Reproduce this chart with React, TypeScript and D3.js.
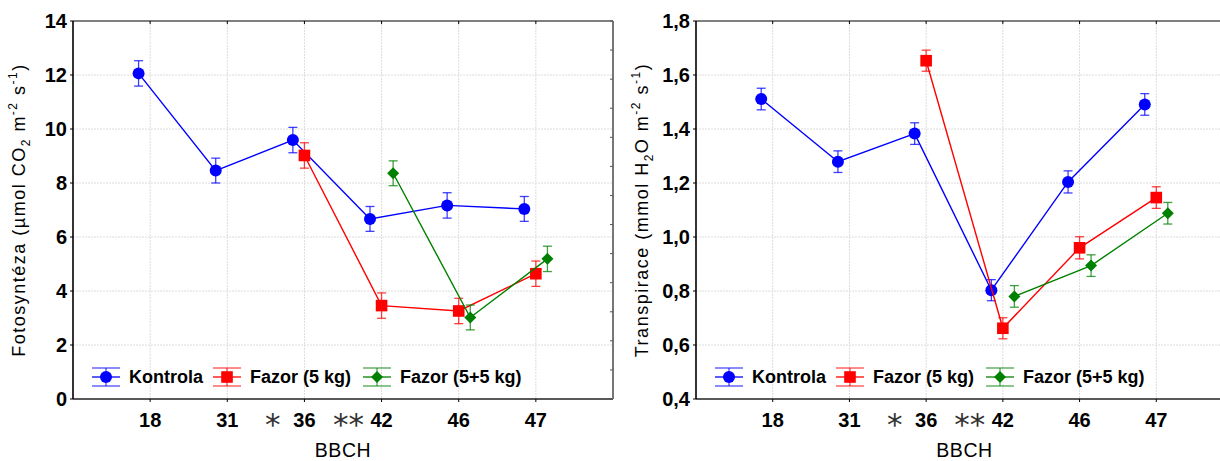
import React from 'react';
import * as d3 from 'd3';

// BBCH growth stages on the x axis
const categories = ['18', '31', '36', '42', '46', '47'];

const seriesNames = ['Kontrola', 'Fazor (5 kg)', 'Fazor (5+5 kg)'];
const seriesColors = ['#0000ff', '#ff0000', '#008000'];
const seriesOffsets = [-0.15, 0, 0.15];
const seriesShapes = ['circle', 'square', 'diamond'];

// Fotosyntéza (µmol CO2 m-2 s-1)
const photoKontrola = [12.06, 8.46, 9.59, 6.67, 7.17, 7.04];
const photoKontrolaErr = [0.47, 0.46, 0.47, 0.46, 0.47, 0.46];
const photoFazor5 = [null, null, 9.02, 3.46, 3.26, 4.64];
const photoFazor5Err = [null, null, 0.47, 0.47, 0.47, 0.47];
const photoFazor55 = [null, null, null, 8.36, 3.02, 5.19];
const photoFazor55Err = [null, null, null, 0.46, 0.46, 0.47];
const photoTicks = [0, 2, 4, 6, 8, 10, 12, 14];

// Transpirace (mmol H2O m-2 s-1)
const transKontrola = [1.511, 1.279, 1.383, 0.803, 1.204, 1.491];
const transKontrolaErr = [0.04, 0.04, 0.04, 0.039, 0.041, 0.04];
const transFazor5 = [null, null, 1.653, 0.662, 0.96, 1.146];
const transFazor5Err = [null, null, 0.039, 0.039, 0.041, 0.04];
const transFazor55 = [null, null, null, 0.78, 0.894, 1.088];
const transFazor55Err = [null, null, null, 0.04, 0.04, 0.04];
const transTicks = [0.4, 0.6, 0.8, 1.0, 1.2, 1.4, 1.6, 1.8];

// significance marks between stages
const stars = [
  { pos: 2.59, text: '*' },
  { pos: 3.57, text: '**' },
];

const FONT = '"Liberation Sans", Arial, sans-serif';

type Pt = { i: number; v: number; e: number };

const Marker = ({ shape, color }: { shape: string; color: string }) => {
  if (shape === 'circle') return <circle r={6} fill={color} />;
  if (shape === 'square') return <rect x={-5.8} y={-5.8} width={11.6} height={11.6} fill={color} />;
  return <path d="M0,-6L6,0L0,6L-6,0Z" fill={color} />;
};

const Panel = ({ x0, width, top, bottom, domain, ticks, fmt, values, errs, title, grayRight }) => {
  const x = d3.scaleLinear().domain([0, 7]).range([x0, x0 + width]);
  const y = d3.scaleLinear().domain(domain).range([bottom, top]);
  const line = d3.line<Pt>().x(d => d.x).y(d => y(d.v));
  const midX = x0 + width / 2;
  const midY = (top + bottom) / 2;
  const frameTicks = d3.range(14).map(k => top + (k * (bottom - top)) / 13);

  return (
    <g>
      {/* grid */}
      {categories.map((c, i) => (
        <line key={'gx' + c} x1={x(i + 1)} x2={x(i + 1)} y1={top} y2={bottom}
          stroke="#dcdcdc" strokeWidth={1} strokeDasharray="2,1" />
      ))}
      {ticks.slice(1, -1).map(t => (
        <line key={'gy' + t} x1={x0} x2={x0 + width} y1={y(t)} y2={y(t)}
          stroke="#dcdcdc" strokeWidth={1} strokeDasharray="2,1" />
      ))}

      {/* frame */}
      <line x1={x0} x2={x0 + width} y1={top} y2={top} stroke="#000" strokeWidth={1.2} />
      <line x1={x0} x2={x0 + width} y1={bottom} y2={bottom} stroke="#222" strokeWidth={1.6} />
      <line x1={x0} x2={x0} y1={top} y2={bottom} stroke="#000" strokeWidth={1.6} />
      {grayRight && (
        <g>
          <line x1={x0 + width} x2={x0 + width} y1={top} y2={bottom} stroke="#777" strokeWidth={2} />
          {frameTicks.map((t, k) => (
            <line key={'ft' + k} x1={x0 + width - 3} x2={x0 + width} y1={t} y2={t} stroke="#555" strokeWidth={1} />
          ))}
        </g>
      )}
      {categories.map((c, i) => (
        <g key={'tk' + c}>
          <line x1={x(i + 1)} x2={x(i + 1)} y1={bottom} y2={bottom + 3} stroke="#000" />
          <line x1={x(i + 1)} x2={x(i + 1)} y1={top} y2={top + 3} stroke="#000" />
        </g>
      ))}
      {ticks.map(t => (
        <line key={'yt' + t} x1={x0 - 3} x2={x0} y1={y(t)} y2={y(t)} stroke="#000" />
      ))}

      {/* tick labels */}
      {ticks.map(t => (
        <text key={'yl' + t} x={x0 - 6} y={y(t)} dy="0.36em" textAnchor="end"
          fontFamily={FONT} fontWeight="bold" fontSize={20} fill="#000">{fmt(t)}</text>
      ))}
      {categories.map((c, i) => (
        <text key={'xl' + c} x={x(i + 1)} y={bottom + 28} textAnchor="middle"
          fontFamily={FONT} fontWeight="bold" fontSize={20} fill="#000">{c}</text>
      ))}
      {stars.map(s => (
        <text key={'st' + s.pos} x={x(s.pos)} y={bottom + 36} textAnchor="middle"
          fontFamily='"DejaVu Sans", sans-serif' fontSize={31} fill="#333">{s.text}</text>
      ))}

      {/* axis titles */}
      <text x={midX} y={457} textAnchor="middle" fontFamily={FONT} fontSize={19.5}
        letterSpacing={0.6} fill="#000">BBCH</text>
      <text transform={`translate(${x0 - 48},${midY}) rotate(-90)`} textAnchor="middle"
        fontFamily={FONT} fontSize={18} letterSpacing={1.5} fill="#000">
        {title[0]}
        <tspan fontSize={12} dy={5}>2</tspan>
        <tspan dy={-5}>{title[1]}</tspan>
        <tspan fontSize={12} dy={-8}>-2</tspan>
        <tspan dy={8}> s</tspan>
        <tspan fontSize={12} dy={-8}>-1</tspan>
        <tspan dy={8}>)</tspan>
      </text>

      {/* series */}
      {values.map((vals, s) => {
        const pts: any[] = vals
          .map((v, i) => (v == null ? null : { i, v, e: errs[s][i], x: x(i + 1 + seriesOffsets[s]) }))
          .filter(Boolean);
        const col = seriesColors[s];
        return (
          <g key={'s' + s}>
            <path d={line(pts) || ''} fill="none" stroke={col} strokeWidth={1.4} />
            {pts.map(p => (
              <g key={'p' + p.i} stroke={col} strokeOpacity={0.75} strokeWidth={1.3}>
                <line x1={p.x} x2={p.x} y1={y(p.v - p.e)} y2={y(p.v + p.e)} />
                <line x1={p.x - 4.5} x2={p.x + 4.5} y1={y(p.v - p.e)} y2={y(p.v - p.e)} />
                <line x1={p.x - 4.5} x2={p.x + 4.5} y1={y(p.v + p.e)} y2={y(p.v + p.e)} />
              </g>
            ))}
            {pts.map(p => (
              <g key={'m' + p.i} transform={`translate(${p.x},${y(p.v)})`}>
                <Marker shape={seriesShapes[s]} color={col} />
              </g>
            ))}
          </g>
        );
      })}

      {/* legend */}
      {seriesNames.map((n, s) => {
        const lx = x0 + [33, 154, 304][s];
        const ly = bottom - 22;
        const col = seriesColors[s];
        return (
          <g key={'lg' + s}>
            <g stroke={col} strokeWidth={1.3}>
              <line x1={lx - 14} x2={lx + 14} y1={ly - 9} y2={ly - 9} strokeOpacity={0.7} />
              <line x1={lx - 14} x2={lx + 14} y1={ly + 9} y2={ly + 9} strokeOpacity={0.7} />
              <line x1={lx} x2={lx} y1={ly - 9} y2={ly + 9} strokeOpacity={0.7} />
              <line x1={lx - 14} x2={lx + 14} y1={ly} y2={ly} />
            </g>
            <g transform={`translate(${lx},${ly})`}>
              <Marker shape={seriesShapes[s]} color={col} />
            </g>
            <text x={lx + 23} y={ly} dy="0.36em" fontFamily={FONT} fontWeight="bold" fontSize={18} fill="#000">{n}</text>
          </g>
        );
      })}
    </g>
  );
};

export default function App() {
  const fmtComma = (t: number) => d3.format('.1f')(t).replace('.', ',');
  return (
    <svg width={1220} height={461} style={{ position: 'absolute', left: 0, top: 0, background: '#fff' }}>
      <rect width={1220} height={461} fill="#fff" />
      <Panel
        x0={73} width={540} top={21} bottom={399}
        domain={[0, 14]} ticks={photoTicks} fmt={(t: number) => String(t)}
        values={[photoKontrola, photoFazor5, photoFazor55]}
        errs={[photoKontrolaErr, photoFazor5Err, photoFazor55Err]}
        title={['Fotosyntéza (µmol CO', ' m']}
        grayRight={true}
      />
      <Panel
        x0={696} width={537} top={21} bottom={399}
        domain={[0.4, 1.8]} ticks={transTicks} fmt={fmtComma}
        values={[transKontrola, transFazor5, transFazor55]}
        errs={[transKontrolaErr, transFazor5Err, transFazor55Err]}
        title={['Transpirace (mmol H', 'O m']}
        grayRight={false}
      />
    </svg>
  );
}
